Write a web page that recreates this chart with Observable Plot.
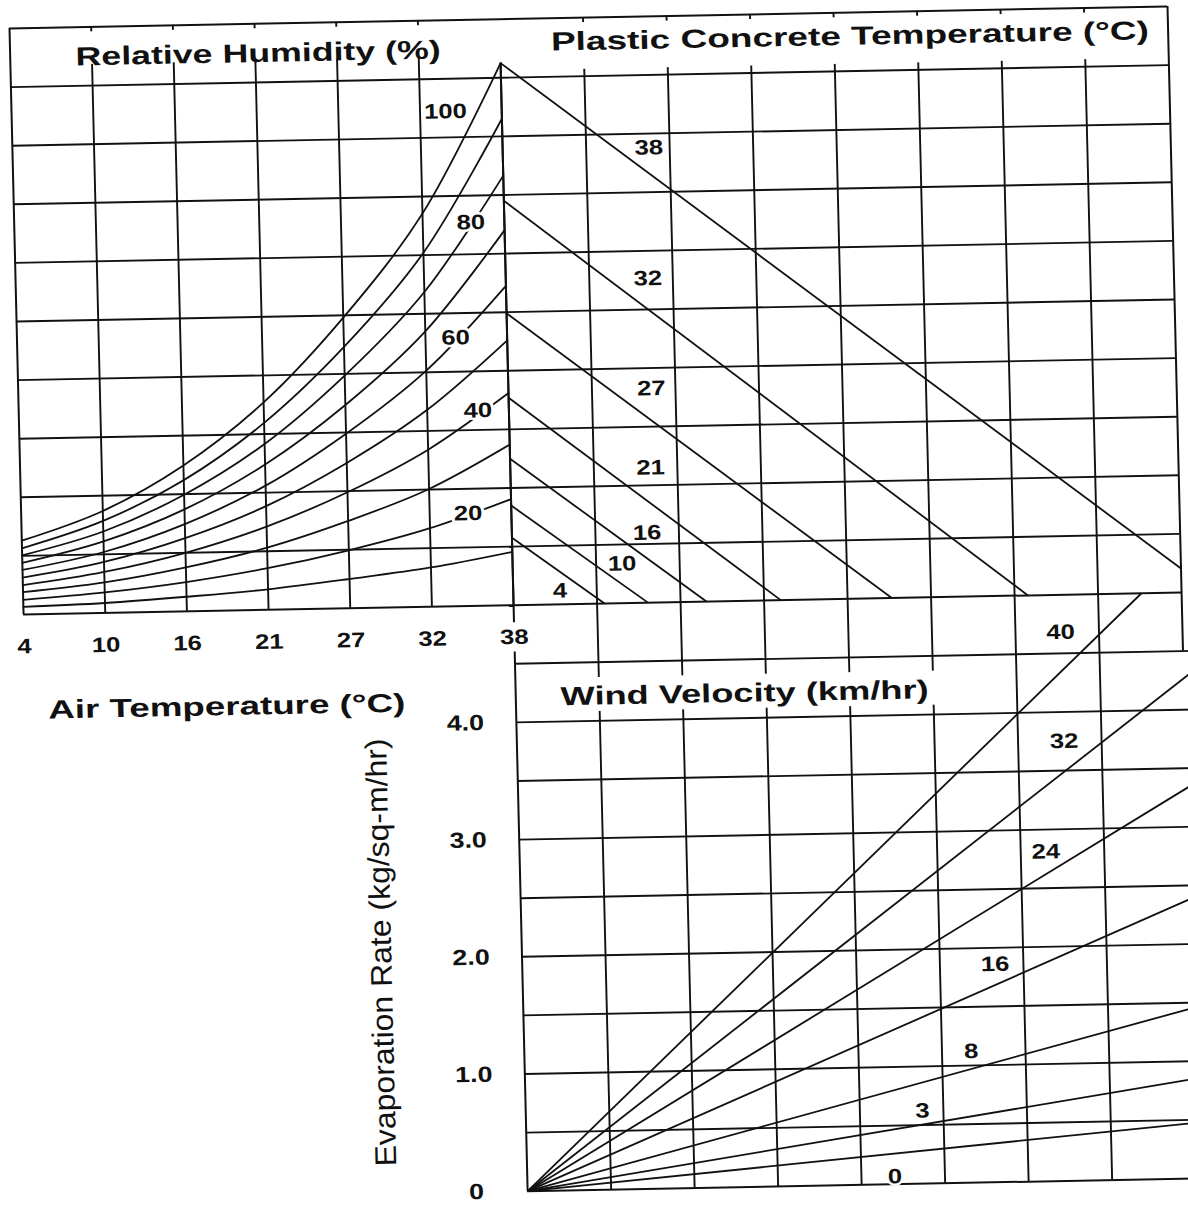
<!DOCTYPE html>
<html><head><meta charset="utf-8">
<script src="https://cdn.jsdelivr.net/npm/d3@7"></script>
<script src="https://cdn.jsdelivr.net/npm/@observablehq/plot@0.6"></script>
<style>
html,body{margin:0;padding:0;background:#fff;overflow:hidden;width:1188px;height:1205px;}
#frame{position:absolute;left:9px;top:28px;width:1250px;height:1250px;transform-origin:0 0;transform:matrix(1,-0.019,0.024,1,0,0);}
#frame svg{position:absolute;}
</style></head><body><div id="frame"></div>
<script>
// Air temperature grid (°C) – tick labels of the relative-humidity panel
const airTemps = [4, 10, 16, 21, 27, 32, 38];
const humidityLevels = [10, 20, 30, 40, 50, 60, 70, 80, 90, 100];
// vapour pressure read on each RH curve at each air-temperature grid line (in grid rows, 0–10)
const rh10  = [0.13, 0.17, 0.25, 0.35, 0.50, 0.67, 0.91];
const rh20  = [0.25, 0.35, 0.50, 0.71, 0.99, 1.34, 1.81];
const rh30  = [0.38, 0.52, 0.75, 1.06, 1.49, 2.01, 2.74];
const rh40  = [0.50, 0.70, 1.00, 1.42, 1.98, 2.68, 3.62];
const rh50  = [0.63, 0.87, 1.25, 1.77, 2.48, 3.36, 4.52];
const rh60  = [0.76, 1.04, 1.49, 2.12, 2.98, 4.03, 5.45];
const rh70  = [0.88, 1.22, 1.74, 2.48, 3.47, 4.70, 6.40];
const rh80  = [1.01, 1.39, 1.99, 2.83, 3.97, 5.37, 7.33];
const rh90  = [1.13, 1.57, 2.24, 3.19, 4.46, 6.04, 8.30];
const rh100 = [1.26, 1.74, 2.49, 3.54, 4.96, 6.71, 9.25];
const rhLabels = ["100", "80", "60", "40", "20"];
const rhLabelX = [5.31, 5.59, 5.37, 5.62, 5.47];
const rhLabelY = [8.44, 6.54, 4.58, 3.33, 1.58];

// Plastic concrete temperature lines (°C)
const concreteTemps = [4, 10, 16, 21, 27, 32, 38];
const concreteStart = [1.15, 1.70, 2.50, 3.54, 4.98, 6.90, 9.25]; // rows at the left edge
const concreteEndX  = [1.09, 1.61, 2.31, 3.20, 4.53, 6.16, 8.00]; // columns where each line stops
const concreteEndY  = [0, 0, 0, 0, 0, 0, 0.41];
const concreteLabelX = [0.56, 1.31, 1.62, 1.68, 1.71, 1.70, 1.75];
const concreteLabelY = [0.23, 0.67, 1.19, 2.30, 3.65, 5.53, 7.76];

// Wind velocity lines (km/hr) and evaporation rate axis (kg/sq-m/hr)
const windSpeeds = [0, 3, 8, 16, 24, 32, 40];
const windEndX    = [8.1, 8.1, 8.1, 8.1, 8.1, 8.1, 7.52];
const windEndRate = [0.48, 0.86, 1.47, 2.41, 3.37, 4.32, 5.0];
const windLabelX = [4.40, 4.75, 5.35, 5.66, 6.30, 6.55, 6.54];
const windLabelY = [0.065, 0.62, 1.12, 1.86, 2.81, 3.75, 4.68];
const evapTicks = [0, 1, 2, 3, 4];

// ---------- BUILD ----------
const FONT = "'Liberation Sans', Arial, Helvetica, sans-serif";
const ink = "#111";
const gw = 1.9;
const frame = document.getElementById("frame");

function base(w, h, m) {
  return {
    width: w + m[1] + m[3], height: h + m[0] + m[2],
    marginTop: m[0], marginRight: m[1], marginBottom: m[2], marginLeft: m[3],
    style: {background: "transparent", overflow: "visible", fontFamily: FONT, color: ink}
  };
}
function place(svg, left, top) {
  svg.style.left = left + "px"; svg.style.top = top + "px";
  frame.appendChild(svg);
}

const rhSeries = [rh10, rh20, rh30, rh40, rh50, rh60, rh70, rh80, rh90, rh100];
const rhData = humidityLevels.flatMap((rh, k) => rhSeries[k].map((v, i) => ({rh, i, v})));
const rhLab = rhLabels.map((t, k) => ({t, x: rhLabelX[k], y: rhLabelY[k]}));
const concData = concreteTemps.map((t, k) => ({t, y1: concreteStart[k], x2: concreteEndX[k], y2: concreteEndY[k], lx: concreteLabelX[k], ly: concreteLabelY[k]}));
const windData = windSpeeds.map((s, k) => ({s, x2: windEndX[k], y2: windEndRate[k], lx: windLabelX[k], ly: windLabelY[k]}));

const W_L = 490, W_R = 668, H = 586;

// ---- Wind velocity panel (bottom right) ----
const mW = [10, 40, 20, 200];
const plotW = Plot.plot({
  ...base(W_R, H, mW),
  x: {type: "linear", domain: [0, 8], axis: null, label: null},
  y: {domain: [0, 5], label: null},
  marks: [
    Plot.ruleY(d3.range(0.5, 5, 0.5), {x1: 0, x2: 8.3, stroke: ink, strokeWidth: gw}),
    Plot.ruleX(d3.range(1, 8), {y1: 0, y2: 5, stroke: ink, strokeWidth: gw}),
    Plot.rect([0], {x1: 0.5, x2: 5.1, y1: 4.08, y2: 4.37, fill: "white"}),
    Plot.ruleX([0], {y1: 0, y2: 4.6, stroke: ink, strokeWidth: 2}),
    Plot.ruleY([0], {x1: 0, x2: 8.3, stroke: ink, strokeWidth: 2}),
    Plot.link(windData, {x1: 0, y1: 0, x2: "x2", y2: "y2", stroke: ink, strokeWidth: 1.8}),
    Plot.text(windData, {x: "lx", y: "ly", text: d => String(d.s), fontSize: 21, fontWeight: "bold", fill: ink, stroke: "white", strokeWidth: 4, paintOrder: "stroke"}),
    Plot.text(["Wind Velocity (km/hr)"], {x: 2.74, y: 4.21, fontSize: 26, fontWeight: "bold", fill: ink}),
    Plot.axisY(evapTicks, {tickFormat: d => d === 0 ? "0" : d.toFixed(1), tickSize: 0, tickPadding: 51, textAnchor: "middle", fontSize: 22, fontWeight: "bold", fill: ink, label: null}),
    Plot.text(["Evaporation Rate (kg/sq-m/hr)"], {x: -1.68, y: 2.06, rotate: -90, fontSize: 30, fontWeight: "normal", fill: ink})
  ]
});
place(plotW, W_L - mW[3], H - mW[0]);

// ---- Plastic concrete temperature panel (top right) ----
const mR = [10, 40, 70, 10];
const plotR = Plot.plot({
  ...base(W_R, H, mR),
  x: {type: "linear", domain: [0, 8], axis: null, label: null},
  y: {domain: [0, 10], axis: null, label: null},
  marks: [
    Plot.ruleY(d3.range(1, 10), {x1: 0, x2: 8, stroke: ink, strokeWidth: gw}),
    Plot.ruleX(d3.range(1, 8), {y1: 0, y2: 10, stroke: ink, strokeWidth: gw}),
    Plot.rect([0], {x1: 0.55, x2: 7.85, y1: 9.12, y2: 9.915, fill: "white"}),
    Plot.ruleX([8], {y1: -1, y2: 10, stroke: ink, strokeWidth: 2}),
    Plot.ruleY([0, 10], {x1: 0, x2: 8, stroke: ink, strokeWidth: 2}),
    Plot.ruleX([0], {y1: 0, y2: concreteStart[6], stroke: ink, strokeWidth: 2}),
    Plot.link(concData, {x1: 0, y1: "y1", x2: "x2", y2: "y2", stroke: ink, strokeWidth: 1.8}),
    Plot.text(concData, {x: "lx", y: "ly", text: d => String(d.t), fontSize: 21, fontWeight: "bold", fill: ink, stroke: "white", strokeWidth: 4, paintOrder: "stroke"}),
    Plot.text(["Plastic Concrete Temperature (°C)"], {x: 4.19, y: 9.59, fontSize: 26, fontWeight: "bold", fill: ink})
  ]
});
place(plotR, W_L - mR[3], -mR[0]);

// ---- Relative humidity / air temperature panel (top left) ----
const mL = [10, 10, 130, 30];
const plotL = Plot.plot({
  ...base(W_L, H, mL),
  x: {type: "linear", domain: [0, 6], label: null},
  y: {domain: [0, 10], axis: null, label: null},
  marks: [
    Plot.ruleY(d3.range(1, 10), {x1: 0, x2: 6, stroke: ink, strokeWidth: gw}),
    Plot.ruleX(d3.range(1, 6), {y1: 0, y2: 10, stroke: ink, strokeWidth: gw}),
    Plot.rect([0], {x1: 0.75, x2: 5.45, y1: 9.36, y2: 9.915, fill: "white"}),
    Plot.ruleX([0], {y1: 0, y2: 10, stroke: ink, strokeWidth: 2}),
    Plot.ruleY([0, 10], {x1: 0, x2: 6, stroke: ink, strokeWidth: 2}),
    Plot.ruleX([6], {y1: -0.3, y2: rh100[6], stroke: ink, strokeWidth: 2}),
    Plot.line(rhData, {x: "i", y: "v", z: "rh", curve: "catmull-rom", stroke: ink, strokeWidth: 1.8}),
    Plot.text(rhLab, {x: "x", y: "y", text: "t", fontSize: 21, fontWeight: "bold", fill: ink, stroke: "white", strokeWidth: 5, paintOrder: "stroke"}),
    Plot.axisX(d3.range(7), {tickFormat: i => String(airTemps[i]), tickSize: 0, tickPadding: 24, fontSize: 21, fontWeight: "bold", fill: ink, label: null}),
    Plot.text(["Air Temperature (°C)"], {x: 2.46, y: -1.64, fontSize: 26, fontWeight: "bold", fill: ink}),
    Plot.text(["Relative Humidity (%)"], {x: 3.035, y: 9.49, fontSize: 26, fontWeight: "bold", fill: ink})
  ]
});
place(plotL, -mL[3], -mL[0]);

// widen text like the horizontally stretched scan
const targets = new Map([
  ["Relative Humidity (%)", 365],
  ["Plastic Concrete Temperature (°C)", 598],
  ["Wind Velocity (km/hr)", 368],
  ["Air Temperature (°C)", 357],
  ["Evaporation Rate (kg/sq-m/hr)", 428]
]);
frame.querySelectorAll("text").forEach(t => {
  const s = t.textContent;
  const L = t.getComputedTextLength();
  if (!L) return;
  const target = targets.has(s) ? targets.get(s) : L * 1.22;
  t.setAttribute("textLength", target);
  t.setAttribute("lengthAdjust", "spacingAndGlyphs");
});
</script></body></html>
